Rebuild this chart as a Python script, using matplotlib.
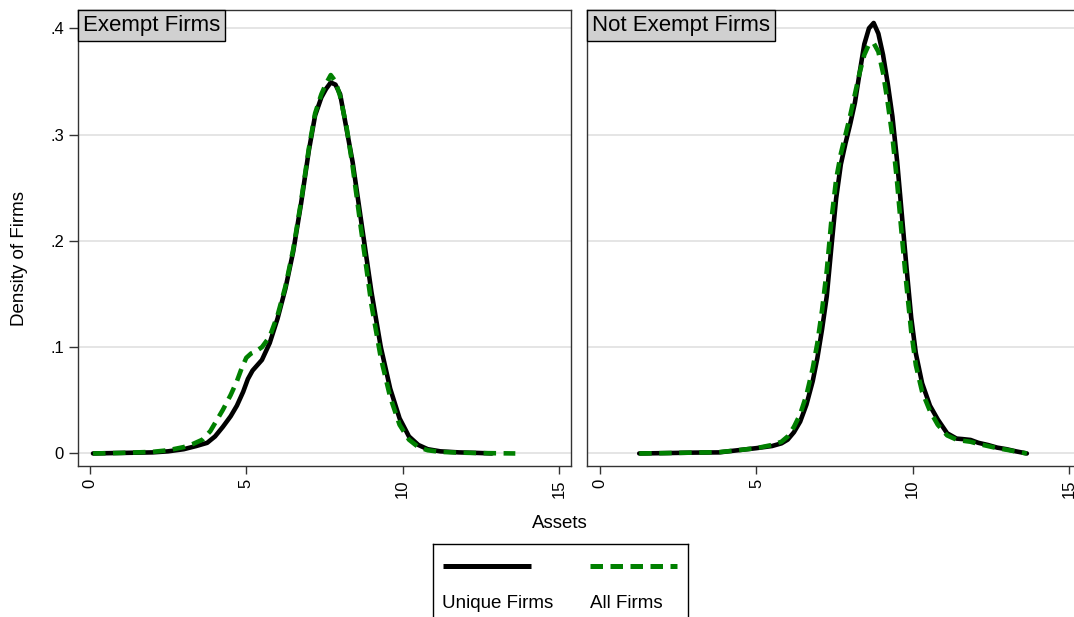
import matplotlib
matplotlib.use("Agg")
import matplotlib.pyplot as plt

plt.rcParams['font.family'] = ['Liberation Sans', 'DejaVu Sans']

# kernel density curves (x = assets, y = density)
exempt_unique_x = [0.1, 1.0, 2.0, 2.5, 3.0, 3.4, 3.75, 4.0, 4.25, 4.5, 4.7, 4.9, 5.05, 5.2,
                   5.35, 5.5, 5.75, 6.0, 6.25, 6.5, 6.75, 7.0, 7.2, 7.4, 7.55, 7.7, 7.85, 8.0,
                   8.2, 8.4, 8.7, 9.0, 9.3, 9.6, 9.9, 10.2, 10.5, 10.8, 11.2, 11.8, 12.4, 12.85]
exempt_unique_y = [0.0, 0.0005, 0.001, 0.002, 0.004, 0.007, 0.010, 0.016, 0.025, 0.035, 0.045,
                   0.058, 0.070, 0.078, 0.083, 0.088, 0.104, 0.127, 0.155, 0.190, 0.235, 0.285,
                   0.318, 0.335, 0.343, 0.349, 0.347, 0.338, 0.306, 0.274, 0.213, 0.152, 0.100,
                   0.061, 0.033, 0.016, 0.008, 0.004, 0.002, 0.001, 0.0005, 0.0]

exempt_all_x = [0.1, 1.0, 2.0, 2.5, 3.0, 3.3, 3.6, 3.85, 4.05, 4.25, 4.5, 4.7, 4.85, 5.0, 5.15,
                5.3, 5.5, 5.75, 6.0, 6.25, 6.5, 6.75, 7.0, 7.2, 7.4, 7.55, 7.7, 7.85, 8.0, 8.2,
                8.4, 8.65, 9.0, 9.3, 9.6, 9.9, 10.2, 10.5, 10.8, 11.2, 11.8, 12.4, 13.0, 13.6]
exempt_all_y = [0.0, 0.0005, 0.0015, 0.003, 0.006, 0.009, 0.013, 0.021, 0.031, 0.041, 0.055,
                0.068, 0.080, 0.090, 0.094, 0.096, 0.100, 0.110, 0.130, 0.157, 0.192, 0.237,
                0.287, 0.320, 0.338, 0.348, 0.356, 0.350, 0.336, 0.308, 0.270, 0.215, 0.140,
                0.090, 0.053, 0.027, 0.013, 0.006, 0.003, 0.0015, 0.0008, 0.0004, 0.0002, 0.0]

notexempt_x = [1.25, 2.0, 3.0, 3.8, 4.4, 5.0, 5.5, 5.8, 6.0, 6.2, 6.4, 6.6, 6.8, 6.95, 7.1,
               7.25, 7.4, 7.55, 7.7, 7.85, 8.0, 8.15, 8.3, 8.45, 8.6, 8.75, 8.9, 9.05, 9.2,
               9.35, 9.5, 9.65, 9.8, 9.95, 10.1, 10.3, 10.55, 10.8, 11.1, 11.4, 11.6, 11.85,
               12.1, 12.4, 12.7, 13.0, 13.3, 13.65]
notexempt_unique_y = [0.0, 0.0003, 0.0008, 0.001, 0.003, 0.005, 0.007, 0.0095, 0.013, 0.020,
                      0.030, 0.046, 0.068, 0.090, 0.117, 0.148, 0.195, 0.240, 0.272, 0.292,
                      0.310, 0.330, 0.358, 0.385, 0.400, 0.405, 0.395, 0.375, 0.348, 0.317,
                      0.275, 0.225, 0.175, 0.128, 0.094, 0.066, 0.045, 0.032, 0.019, 0.014,
                      0.0135, 0.0127, 0.010, 0.008, 0.0055, 0.004, 0.002, 0.0]
notexempt_all_y = [0.0, 0.0003, 0.0008, 0.0012, 0.003, 0.005, 0.008, 0.011, 0.016, 0.025,
                   0.037, 0.055, 0.080, 0.104, 0.135, 0.172, 0.220, 0.258, 0.282, 0.300,
                   0.318, 0.338, 0.358, 0.375, 0.385, 0.386, 0.378, 0.358, 0.330, 0.298,
                   0.255, 0.205, 0.158, 0.115, 0.083, 0.058, 0.040, 0.027, 0.017, 0.013,
                   0.012, 0.011, 0.009, 0.007, 0.005, 0.0035, 0.0018, 0.0]

panel_titles = ['Exempt Firms', 'Not Exempt Firms']
series_names = ['Unique Firms', 'All Firms']
x_ticks = [0, 5, 10, 15]
y_ticks = [0, 0.1, 0.2, 0.3, 0.4]
y_ticklabels = ['0', '.1', '.2', '.3', '.4']

W, H = 1074, 617
GREEN = '#008000'
LW = 3.3
DASH = (0, (9.0 / LW, 5.4 / LW))

fig = plt.figure(figsize=(W / 100, H / 100), dpi=100)


def px_box(x0, y0, x1, y1):
    # pixel box (top-left origin) -> figure fraction rect
    return [x0 / W, 1 - y1 / H, (x1 - x0) / W, (y1 - y0) / H]


ax1 = fig.add_axes(px_box(78, 10, 571, 466))
ax2 = fig.add_axes(px_box(587, 10, 1080, 466))

panels = [
    (ax1, exempt_unique_x, exempt_unique_y, exempt_all_x, exempt_all_y, (-0.38, 15.38)),
    (ax2, notexempt_x, notexempt_unique_y, notexempt_x, notexempt_all_y, (-0.42, 15.35)),
]

TITLE_FS = 16
TITLE_PAD = 0.22  # in font-size units

for i, (ax, ux, uy, ax_x, ay, xl) in enumerate(panels):
    ax.plot(ux, uy, color='black', lw=LW, solid_capstyle='round', zorder=3)
    ax.plot(ax_x, ay, color=GREEN, lw=LW, linestyle=DASH, dash_capstyle='butt', zorder=4)
    ax.set_xlim(*xl)
    ax.set_ylim(-0.0118, 0.4172)
    ax.set_yticks(y_ticks)
    ax.set_xticks(x_ticks)
    ax.set_xticklabels([str(t) for t in x_ticks], rotation=90, fontsize=12)
    ax.grid(axis='y', color='#e0e0e0', lw=1.2, zorder=0)
    ax.set_axisbelow(True)
    ax.tick_params(axis='x', length=5.5, width=1, color='#333333', pad=4)
    for s in ax.spines.values():
        s.set_color('#333333')
        s.set_linewidth(1.0)
    off = TITLE_PAD * TITLE_FS
    ax.annotate(panel_titles[i], xy=(0, 1), xycoords='axes fraction',
                xytext=(off, -off), textcoords='offset points',
                ha='left', va='top', fontsize=TITLE_FS, zorder=6,
                bbox=dict(boxstyle='square,pad=%.2f' % TITLE_PAD, fc='#d0d0d0',
                          ec='black', lw=1.0))

ax1.set_yticklabels(y_ticklabels, fontsize=12)
ax1.tick_params(axis='y', length=6.5, width=1, color='#333333', pad=3.5)
ax2.tick_params(axis='y', length=0, labelleft=False)

fig.text(20 / W, 1 - 258 / H, 'Density of Firms', rotation=90, ha='center', va='center',
         fontsize=13.5)
fig.text(560 / W, 1 - 523 / H, 'Assets', ha='center', va='center', fontsize=13.5)

# Stata style legend: line keys above the labels
lax = fig.add_axes(px_box(433, 544, 688, 640))
lax.set_xlim(433, 688)
lax.set_ylim(640, 544)
lax.set_xticks([])
lax.set_yticks([])
for s in lax.spines.values():
    s.set_color('black')
    s.set_linewidth(1.0)
lax.plot([443, 531], [566, 566], color='black', lw=3.6, solid_capstyle='butt')
lax.plot([590, 677], [566, 566], color=GREEN, lw=3.6,
         linestyle=(0, (9.0 / 3.6, 5.4 / 3.6)), dash_capstyle='butt')
lax.text(442, 603, series_names[0], ha='left', va='center', fontsize=13.5)
lax.text(590, 603, series_names[1], ha='left', va='center', fontsize=13.5)

fig.savefig('out.png', dpi=100)
